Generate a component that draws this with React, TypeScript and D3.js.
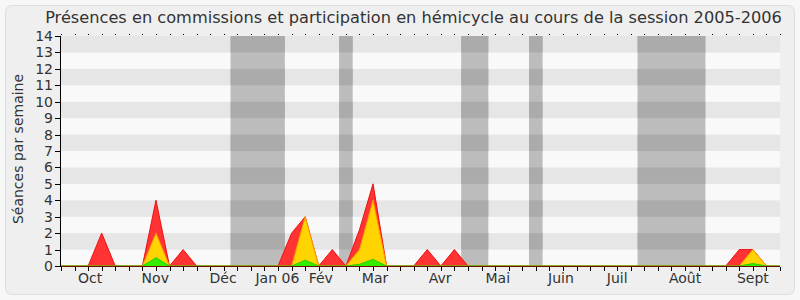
import React from "react";
import * as d3 from "d3";

const title = "Présences en commissions et participation en hémicycle au cours de la session 2005-2006";
const yLabel = "Séances par semaine";

// weekly index 0..53
const weeks = d3.range(0, 54);
const redValues = [0,0,0,2,0,0,0,4,0,1,0,0,0,0,0,0,0,2,3,0,1,0,2.2,5,0,0,0,1,0,1,0,0,0,0,0,0,0,0,0,0,0,0,0,0,0,0,0,0,0,0,1,1,0,0];
const yellowValues = [0,0,0,0,0,0,0,2,0,0,0,0,0,0,0,0,0,0,3,0,0,0,1,4,0,0,0,0,0,0,0,0,0,0,0,0,0,0,0,0,0,0,0,0,0,0,0,0,0,0,0,1,0,0];
const greenValues = [0,0,0,0,0,0,0,0.5,0,0,0,0,0,0,0,0,0,0,0.35,0,0,0,0.1,0.4,0,0,0,0,0,0,0,0,0,0,0,0,0,0,0,0,0,0,0,0,0,0,0,0,0,0,0,0.15,0,0];

const monthLabels = ["Oct","Nov","Déc","Jan 06","Fév","Mar","Avr","Mai","Juin","Juil","Août","Sept"];
const monthPositions = [2.15, 6.95, 11.95, 15.95, 19.15, 23.15, 27.95, 32.2, 36.85, 41.0, 46.0, 51.0];

const vacationStarts = [12.5, 20.5, 29.5, 34.5, 42.5];
const vacationEnds = [16.5, 21.5, 31.5, 35.5, 47.5];

const yTicks = d3.range(0, 15);

export default function App() {
  const W = 800, H = 300;
  const left = 61, right = 780, top = 36, bottom = 266;
  const x = d3.scaleLinear().domain([0, 53]).range([left, right]);
  const y = d3.scaleLinear().domain([0, 14]).range([bottom, top]);

  const area = (vals: number[]) =>
    d3.area<number>().x((_, i) => x(i)).y0(y(0)).y1((d) => y(d))(vals) || "";
  const line = (vals: number[]) =>
    d3.line<number>().x((_, i) => x(i)).y((d) => y(d))(vals) || "";

  const font = "'DejaVu Sans', Verdana, sans-serif";
  const stripes = d3.range(0, 14);

  return (
    <svg width={W} height={H} style={{ position: "absolute", left: 0, top: 0 }} fontFamily={font}>
      <rect x={0} y={0} width={W} height={H} fill="#f7f7f7" />
      <rect x={5.5} y={5.5} width={789} height={289} rx={6} fill="#efefef" stroke="#dedede" />
      <defs>
        <clipPath id="vac">
          {vacationStarts.map((s, i) => (
            <rect key={i} x={x(s)} y={top} width={x(vacationEnds[i]) - x(s)} height={bottom - top} />
          ))}
        </clipPath>
      </defs>
      {stripes.map((k) => (
        <rect key={k} x={left} width={right - left} y={y(k + 1)} height={y(k) - y(k + 1)}
          fill={k % 2 === 1 ? "#e6e6e6" : "#f9f9f9"} />
      ))}
      {vacationStarts.map((s, i) => (
        <rect key={i} x={x(s)} y={top} width={x(vacationEnds[i]) - x(s)} height={bottom - top} fill="#bcbcbc" />
      ))}
      <g clipPath="url(#vac)">
        {stripes.filter((k) => k % 2 === 1).map((k) => (
          <rect key={k} x={left} width={right - left} y={y(k + 1)} height={y(k) - y(k + 1)} fill="#ababab" />
        ))}
      </g>
      <path d={area(redValues)} fill="#ff3333" />
      <path d={line(redValues)} fill="none" stroke="#ee1111" strokeWidth={1} />
      <path d={area(yellowValues)} fill="#ffd400" />
      <path d={line(yellowValues)} fill="none" stroke="#ff9900" strokeWidth={1} />
      <path d={area(greenValues)} fill="#33ee00" />
      <path d={line(greenValues)} fill="none" stroke="#22cc00" strokeWidth={1} />
      <line x1={left} x2={right} y1={bottom + 0.5} y2={bottom + 0.5} stroke="#6a1000" />
      <line x1={left - 0.5} x2={left - 0.5} y1={top} y2={bottom + 1} stroke="#000" />
      {weeks.map((w) => (
        <g key={w}>
          <line x1={Math.round(x(w)) + 0.5} x2={Math.round(x(w)) + 0.5} y1={bottom + 1} y2={bottom + 5} stroke="#000" />
          <line x1={Math.round(x(w)) + 0.5} x2={Math.round(x(w)) + 0.5} y1={top - 2} y2={top - 1} stroke="#000" />
        </g>
      ))}
      {yTicks.map((t) => (
        <g key={t}>
          <line x1={left - 6} x2={left} y1={Math.round(y(t)) + 0.5} y2={Math.round(y(t)) + 0.5} stroke="#000" />
          <text x={left - 8} y={y(t) + 5} textAnchor="end" fontSize={14} fill="#333">{t}</text>
        </g>
      ))}
      {monthLabels.map((m, i) => (
        <text key={m} x={x(monthPositions[i])} y={283} textAnchor="middle" fontSize={14} fill="#333">{m}</text>
      ))}
      <text x={413.5} y={23} textAnchor="middle" fontSize={16.2} fill="#333">{title}</text>
      <text transform={`translate(23,149) rotate(-90)`} textAnchor="middle" fontSize={14} fill="#333">{yLabel}</text>
    </svg>
  );
}
